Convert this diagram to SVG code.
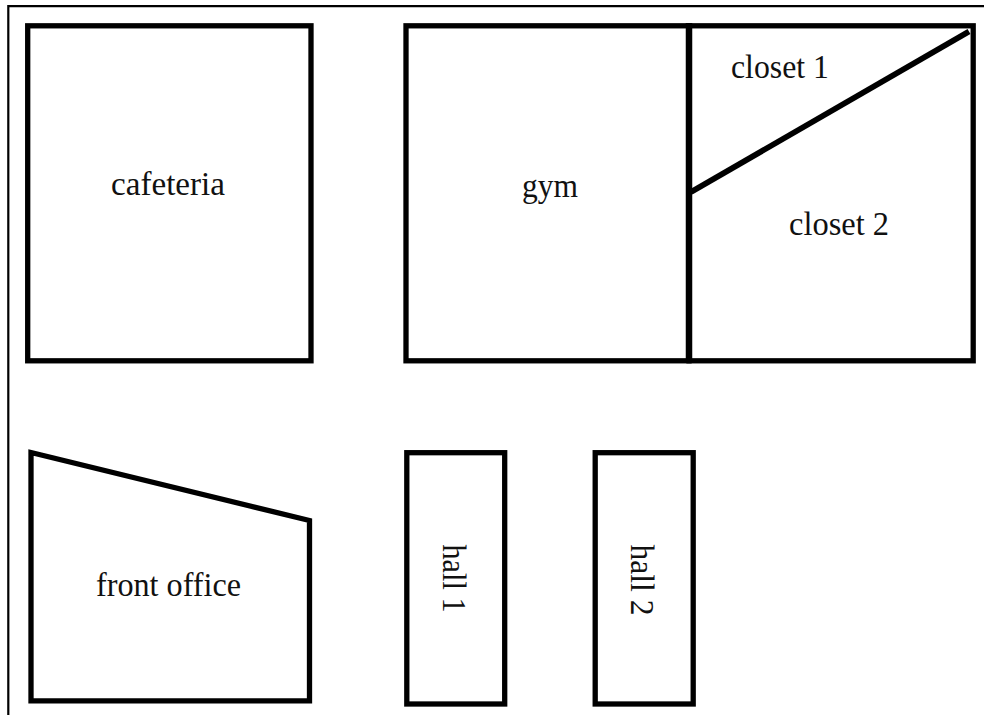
<svg xmlns="http://www.w3.org/2000/svg" width="984" height="715" viewBox="0 0 984 715">
<style>
.w{fill:#fff;stroke:#000;stroke-width:5.300;stroke-linejoin:miter}
.l{fill:none;stroke:#000;stroke-width:5.800}
text{font-family:"Liberation Serif","Times New Roman",serif;font-size:33px;fill:#111}
</style>
<rect width="984" height="715" fill="#fff"/>
<path id="frame" d="M8.300 715V6.200H984" fill="none" stroke="#000" stroke-width="2.200"/>
<g id="cafeteria"><rect class="w" x="27.700" y="25.800" width="283.300" height="335"/><text x="111" y="194.500" textLength="114" lengthAdjust="spacingAndGlyphs">cafeteria</text></g>
<g id="closets"><rect class="w" x="689" y="25.800" width="284.200" height="335"/><path class="l" d="M691 192L969 31.500"/></g>
<g id="gym"><rect class="w" x="406" y="25.800" width="283" height="335"/><path class="l" d="M689 23V363" style="stroke-width:6.500"/><text x="522" y="197" textLength="56" lengthAdjust="spacingAndGlyphs">gym</text></g>
<g id="closet1"><text x="731" y="77.500" textLength="98" lengthAdjust="spacingAndGlyphs">closet 1</text></g>
<g id="closet2"><text x="789" y="235" textLength="100" lengthAdjust="spacingAndGlyphs">closet 2</text></g>
<g id="front-office"><path class="w" d="M31 452.500L309.500 520.500V700.800H31Z"/><text x="96" y="595.500" textLength="145" lengthAdjust="spacingAndGlyphs">front office</text></g>
<g id="hall1"><rect class="w" x="406.800" y="452.700" width="97.900" height="251.300"/><text transform="translate(442.500 544.500) rotate(90)" textLength="68" lengthAdjust="spacingAndGlyphs">hall 1</text></g>
<g id="hall2"><rect class="w" x="595.200" y="452.700" width="98" height="251.300"/><text transform="translate(630.500 544.500) rotate(90)" textLength="71" lengthAdjust="spacingAndGlyphs">hall 2</text></g>
</svg>
